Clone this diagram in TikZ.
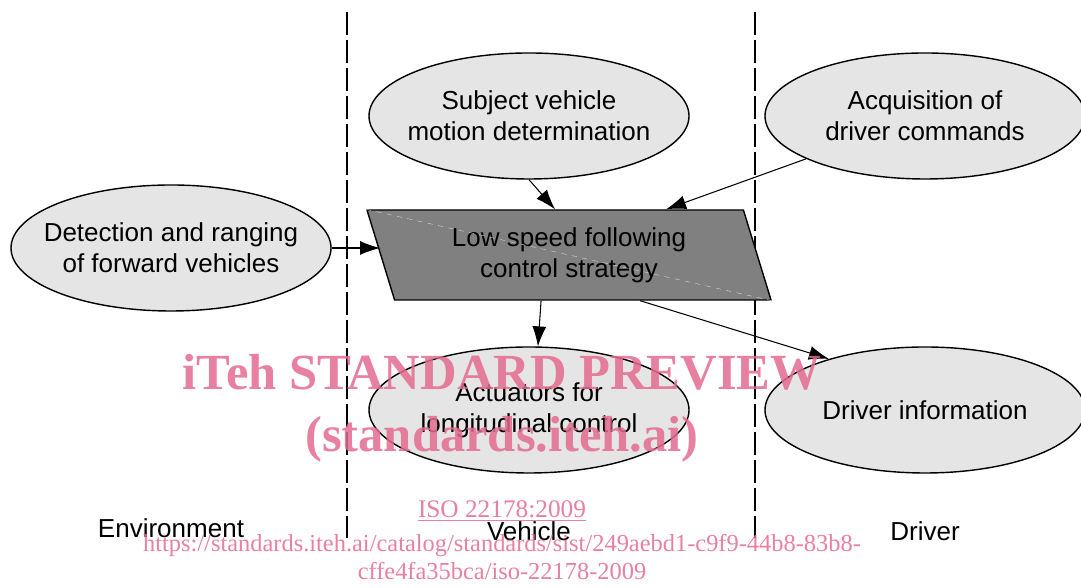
\documentclass[tikz,border=0pt]{standalone}
\usepackage{fontspec}
\setmainfont{Liberation Sans}
\newfontfamily\wmfont{Liberation Serif}
\usetikzlibrary{arrows.meta, positioning, shapes.geometric, calc}
\definecolor{wmpink}{RGB}{228,106,144}

\begin{document}
\begin{tikzpicture}[
    blob/.style={ellipse, draw, fill=gray!20, line width=0.8pt,
                 minimum width=6.4cm, minimum height=2.52cm, inner xsep=-0.4cm, inner ysep=0pt,
                 align=center, font=\fontsize{14.8}{17.6}\selectfont},
    strategy/.style={trapezium, trapezium left angle=116.57, trapezium right angle=63.43,
                 trapezium stretches body, draw, fill=gray, line width=0.8pt,
                 minimum width=8.08cm, minimum height=1.8cm, inner sep=0pt,
                 align=center, font=\fontsize{14.8}{17.6}\selectfont},
    arrow/.style={-{Latex[length=0.4cm, width=0.28cm]}, line width=0.6pt},
    lane/.style={line width=1pt, dash pattern=on 0.46cm off 0.1cm},
    lanelabel/.style={font=\fontsize{14.8}{17.6}\selectfont, inner sep=0pt, anchor=base},
    wmark/.style={text=wmpink, text opacity=0.85, inner sep=0pt, anchor=base}
  ]
  \useasboundingbox (0,0) rectangle (21.62,11.76);

  % lane separators
  \draw[lane] (6.94,11.52) -- (6.94,1.0);
  \draw[lane] (15.1,11.52) -- (15.1,1.0);

  \node[blob] (detect) at (3.42,6.8) {Detection and ranging\\of forward vehicles};
  \node[blob] (subj) at (10.58,9.44) {Subject vehicle\\motion determination};
  \node[blob] (acq) at (18.5,9.44) {Acquisition of\\driver commands};
  \node[strategy] (strat) at (11.38,6.66) {Low speed following\\control strategy};
  \draw[white!75!gray, dashed, very thin] (strat.top left corner) -- (strat.bottom right corner);
  \node[blob] (act) at (10.58,3.56) {Actuators for\\longitudinal control};
  \node[blob] (drvinfo) at (18.5,3.56) {Driver information};

  \draw[arrow] (detect.east) -- (detect.east -| strat.left side);
  \draw[arrow] (subj.south) -- (strat.top side);
  \draw[arrow] (acq) -- ($(strat.top left corner)+(6.0,0)$);
  \draw[arrow] ($(strat.bottom left corner)+(2.94,0)$) -- (act.82);
  \draw[arrow] ($(strat.bottom left corner)+(4.92,0)$) -- (drvinfo.152);

  \node[lanelabel] (env) at (3.42,1.0) {Environment};
  \node[lanelabel] (veh) at (10.58,0.94) {Vehicle};
  \node[lanelabel] (drv) at (18.5,0.94) {Driver};

  % watermark
  \node[wmark, font=\wmfont\bfseries\fontsize{28.8}{30}\selectfont] (wm1) at (10.04,3.96) {iTeh STANDARD PREVIEW};
  \node[wmark, font=\wmfont\bfseries\fontsize{28.8}{30}\selectfont] (wm2) at (10.04,2.72) {(standards.iteh.ai)};
  \node[wmark, font=\wmfont\fontsize{14.4}{16}\selectfont] (wmiso) at (10.04,1.4) {\underline{ISO 22178:2009}};
  \node[wmark, font=\wmfont\fontsize{13.9}{16}\selectfont] (wmurl1) at (10.04,0.72) {https://standards.iteh.ai/catalog/standards/sist/249aebd1-c9f9-44b8-83b8-};
  \node[wmark, font=\wmfont\fontsize{13.9}{16}\selectfont] (wmurl2) at (10.04,0.16) {cffe4fa35bca/iso-22178-2009};
\end{tikzpicture}
\end{document}
